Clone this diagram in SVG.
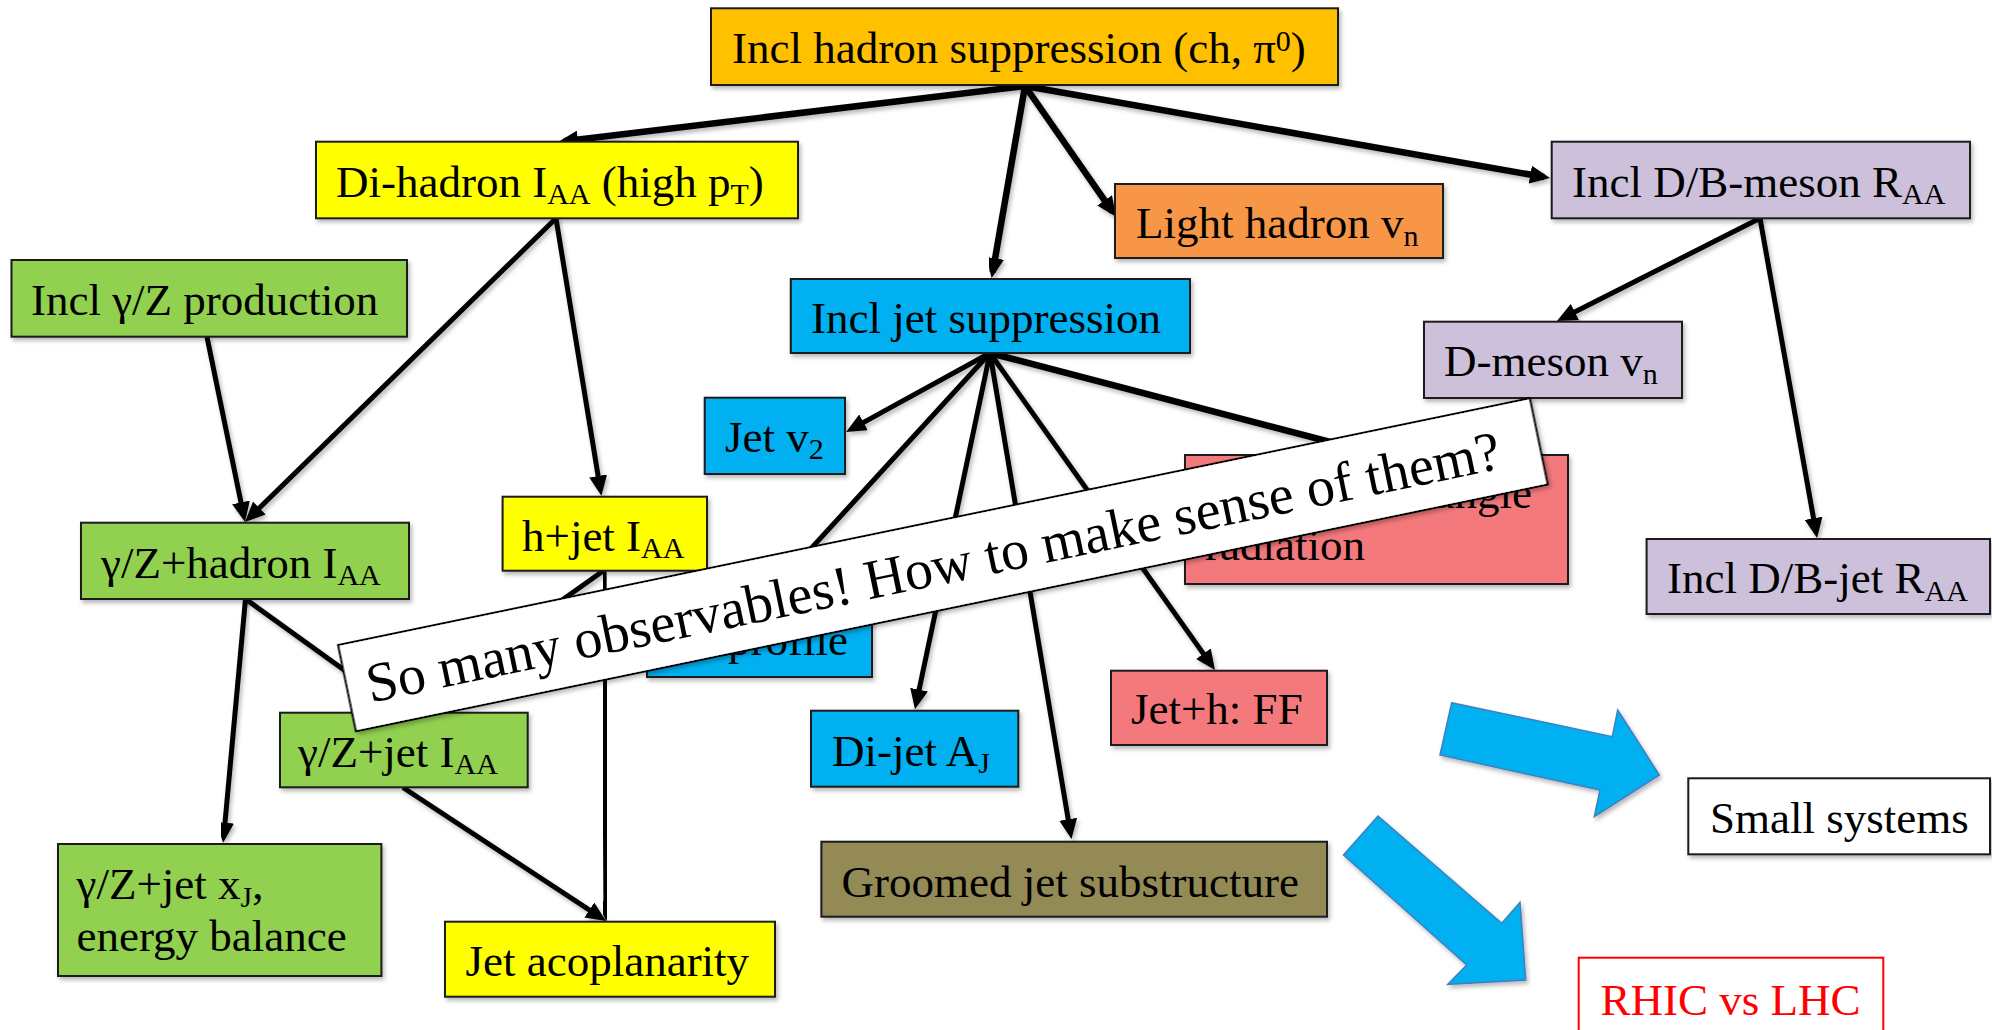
<svg xmlns="http://www.w3.org/2000/svg" width="1992" height="1030" viewBox="0 0 1992 1030">
<style>
  text { font-family: "Liberation Serif", "Times New Roman", serif; font-size: 45px; fill: #000; }
  .box { stroke: #1a1a1a; stroke-width: 2; filter: url(#sh); }
  .sub { font-size: 30px; }
  .c { stroke: #000; stroke-width: 5; fill: none; marker-end: url(#ah); filter: url(#sh); }
  .c.t { stroke-width: 6.5; }
  .orange { fill: #FFC000; }
  .yellow { fill: #FFFF00; }
  .lorange { fill: #F79646; }
  .lav { fill: #CCC0DA; }
  .green { fill: #92D050; }
  .blue { fill: #00B0F0; }
  .red { fill: #F4797B; }
  .olive { fill: #948A54; }
  .white { fill: #FFFFFF; }
  .barrow { fill: #00B0F0; stroke: #3F7FBF; stroke-width: 1.5; filter: url(#sh); }
</style>
<defs>
  <filter id="sh" x="-10%" y="-10%" width="130%" height="140%">
    <feDropShadow dx="2" dy="3" stdDeviation="2" flood-color="#000" flood-opacity="0.28"/>
  </filter>
  <marker id="ah" markerUnits="userSpaceOnUse" markerWidth="20" markerHeight="18" viewBox="0 0 20 18" refX="14" refY="9" orient="auto">
    <path d="M0,0 L20,9 L0,18 z" fill="#000"/>
  </marker>
</defs>
<rect width="1992" height="1030" fill="#fff"/>

<g id="connectors">
  <line class="c t" x1="1025" y1="86" x2="564" y2="141.3"/>
  <line class="c t" x1="1025" y1="86" x2="992.7" y2="272.1"/>
  <line class="c t" x1="1025" y1="86" x2="1112.6" y2="211.8"/>
  <line class="c t" x1="1025" y1="86" x2="1544.1" y2="177"/>
  <line class="c" x1="556" y1="218.3" x2="249.3" y2="517.8"/>
  <line class="c" x1="207" y1="337" x2="243.8" y2="516.1"/>
  <line class="c" x1="556" y1="218.3" x2="600.4" y2="489.8"/>
  <line class="c" x1="245.5" y1="599" x2="223.7" y2="836.7"/>
  <line class="c" x1="245.5" y1="599" x2="398.6" y2="709.2"/>
  <line class="c" x1="603" y1="571" x2="408.4" y2="709.2"/>
  <line class="c" x1="604" y1="571" x2="606" y2="915"/>
  <line class="c" x1="403" y1="787.5" x2="601" y2="917.7"/>
  <line class="c" x1="990" y1="353" x2="851.3" y2="429.1"/>
  <line class="c" x1="990" y1="353" x2="767" y2="596.6"/>
  <line class="c" x1="990" y1="353" x2="916.2" y2="703.4"/>
  <line class="c" x1="990" y1="353" x2="1070.5" y2="833.1"/>
  <line class="c" x1="990" y1="353" x2="1211.5" y2="665.1"/>
  <line class="c t" x1="990" y1="353" x2="1374.2" y2="453.5"/>
  <line class="c" x1="1760" y1="218.3" x2="1562.3" y2="318.3"/>
  <line class="c" x1="1760" y1="218.3" x2="1816" y2="532.1"/>
</g>

<g id="n-incl-hadron">
  <rect class="box orange" x="711" y="8.3" width="627" height="76.7"/>
  <text x="732" y="62.7">Incl hadron suppression (ch, π<tspan class="sub" dy="-12">0</tspan><tspan dy="12">)</tspan></text>
</g>
<g id="n-dihadron">
  <rect class="box yellow" x="316" y="141.7" width="482" height="76.6"/>
  <text x="336" y="196.7">Di-hadron I<tspan class="sub" dy="7.5">AA</tspan><tspan dy="-7.5"> (high p</tspan><tspan class="sub" dy="7.5">T</tspan><tspan dy="-7.5">)</tspan></text>
</g>
<g id="n-light-hadron">
  <rect class="box lorange" x="1115" y="184" width="328" height="74"/>
  <text x="1136" y="238">Light hadron v<tspan class="sub" dy="7.5">n</tspan></text>
</g>
<g id="n-db-meson">
  <rect class="box lav" x="1551.7" y="141.7" width="418.3" height="76.6"/>
  <text x="1572" y="196.7">Incl D/B-meson R<tspan class="sub" dy="7.5">AA</tspan></text>
</g>
<g id="n-incl-gz">
  <rect class="box green" x="11.5" y="260" width="395.5" height="76.7"/>
  <text x="31" y="314.5">Incl γ/Z production</text>
</g>
<g id="n-incl-jet">
  <rect class="box blue" x="790.8" y="279" width="399.2" height="74"/>
  <text x="811" y="332.5">Incl jet suppression</text>
</g>
<g id="n-dmeson-vn">
  <rect class="box lav" x="1424" y="321.7" width="258" height="76.3"/>
  <text x="1444" y="376.3">D-meson v<tspan class="sub" dy="7.5">n</tspan></text>
</g>
<g id="n-jet-v2">
  <rect class="box blue" x="704.7" y="397.7" width="140.3" height="76.3"/>
  <text x="725" y="451.7">Jet v<tspan class="sub" dy="7.5">2</tspan></text>
</g>
<g id="n-large-angle">
  <rect class="box red" x="1185" y="455" width="383" height="129"/>
  <text x="1532" y="508" text-anchor="end">angle</text>
  <text x="1205" y="560">radiation</text>
</g>
<g id="n-db-jet">
  <rect class="box lav" x="1646.6" y="539" width="343.4" height="75"/>
  <text x="1667" y="593">Incl D/B-jet R<tspan class="sub" dy="7.5">AA</tspan></text>
</g>
<g id="n-gz-hadron">
  <rect class="box green" x="81" y="522.7" width="328" height="76.3"/>
  <text x="101" y="577.5">γ/Z+hadron I<tspan class="sub" dy="7.5">AA</tspan></text>
</g>
<g id="n-hjet">
  <rect class="box yellow" x="502.6" y="496.7" width="204.4" height="74"/>
  <text x="522" y="550.5">h+jet I<tspan class="sub" dy="7.5">AA</tspan></text>
</g>
<g id="n-profile">
  <rect class="box blue" x="647" y="601" width="225" height="76"/>
  <text x="728" y="655">profile</text>
</g>
<g id="n-jeth-ff">
  <rect class="box red" x="1111" y="670.7" width="216" height="74.3"/>
  <text x="1131" y="723.5">Jet+h: FF</text>
</g>
<g id="n-dijet">
  <rect class="box blue" x="811" y="710.7" width="207.3" height="76"/>
  <text x="832" y="765.5">Di-jet A<tspan class="sub" dy="7.5">J</tspan></text>
</g>
<g id="n-gz-jet-iaa">
  <rect class="box green" x="280" y="712.7" width="247.7" height="74.6"/>
  <text x="298" y="766.5">γ/Z+jet I<tspan class="sub" dy="7.5">AA</tspan></text>
</g>
<g id="n-gz-jet-xj">
  <rect class="box green" x="58" y="844" width="323.4" height="132"/>
  <text x="76.5" y="899.3">γ/Z+jet x<tspan class="sub" dy="7.5">J</tspan><tspan dy="-7.5">,</tspan></text>
  <text x="76.5" y="950.7">energy balance</text>
</g>
<g id="n-acoplanarity">
  <rect class="box yellow" x="445" y="921.7" width="330" height="75"/>
  <text x="465.5" y="976">Jet acoplanarity</text>
</g>
<g id="n-groomed">
  <rect class="box olive" x="821.4" y="841.7" width="505.6" height="75"/>
  <text x="841.5" y="896.7">Groomed jet substructure</text>
</g>
<g id="n-small">
  <rect class="box white" x="1688.3" y="778.3" width="301.7" height="76"/>
  <text x="1710" y="833">Small systems</text>
</g>
<g id="n-rhic">
  <rect x="1578.7" y="957.7" width="304.6" height="80" fill="#fff" stroke="#FF0000" stroke-width="2"/>
  <text x="1600.5" y="1015" style="fill:#FF0000">RHIC vs LHC</text>
</g>

<g id="block-arrows">
  <polygon class="barrow" points="1451.7,702.7 1612.3,736.7 1617.7,710 1659.3,775 1594.3,816.7 1600,790 1440,755"/>
  <polygon class="barrow" points="1378,816 1501.7,923.3 1520,902.3 1525.7,980 1447.7,984.3 1466.7,965 1343.5,855"/>
</g>

<g id="banner" transform="translate(942.9,564.75) rotate(-11.7)">
  <rect x="-608.5" y="-44" width="1217" height="88" fill="#fff" stroke="#000" stroke-width="2" filter="url(#sh)"/>
  <text x="-10" y="19" text-anchor="middle" style="font-size:56px">So many observables! How to make sense of them?</text>
</g>
</svg>
